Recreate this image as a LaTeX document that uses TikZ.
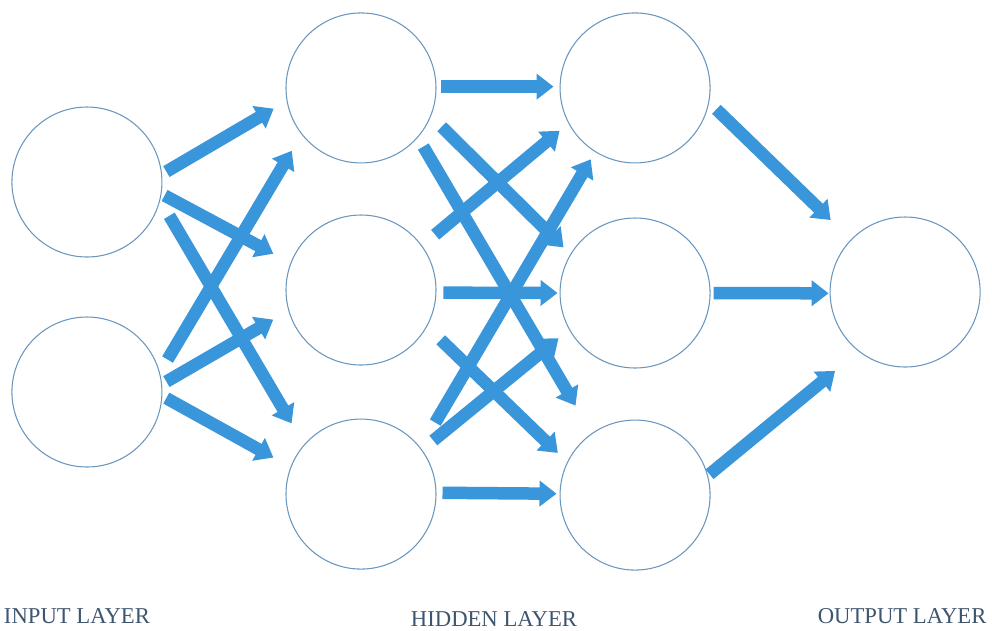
\documentclass[tikz,border=0pt]{standalone}
\usepackage{fontspec}
\setmainfont{Liberation Serif}
\usepackage{xcolor}
\usepackage{tikz}
\usetikzlibrary{positioning,arrows.meta}
\definecolor{nodeline}{RGB}{105,150,190}
\definecolor{linkblue}{RGB}{58,150,218}
\definecolor{labelgray}{RGB}{62,85,110}

\begin{document}
\begin{tikzpicture}[
        neuron/.style={circle, draw=nodeline, line width=0.6pt, minimum size=3cm, inner sep=0pt},
        link/.style={-{Triangle[length=0.34cm, width=0.5cm]}, line width=0.25cm, linkblue},
        layername/.style={inner sep=0pt, text=labelgray, font=\fontsize{12.9}{15}\selectfont}
    ]
        \useasboundingbox (-7.22,-6.8) rectangle (12.62,5.8);

        % first hidden layer
        \node[neuron] (h1b) {};
        \node[neuron, above=1.02cm of h1b] (h1a) {};
        \node[neuron, below=1.06cm of h1b] (h1c) {};

        % second hidden layer
        \node[neuron, right=2.46cm of h1b, yshift=-0.06cm] (h2b) {};
        \node[neuron, above=1.08cm of h2b] (h2a) {};
        \node[neuron, below=1.02cm of h2b] (h2c) {};

        % input and output
        \node[neuron, left=2.46cm of h1b, yshift=2.16cm] (in1) {};
        \node[neuron, left=2.46cm of h1b, yshift=-2.04cm] (in2) {};
        \node[neuron, right=2.38cm of h2b, yshift=0.02cm] (out) {};

        % layer names
        \node[layername, below=2.82cm of in2, xshift=-0.2cm] (inname) {INPUT LAYER};
        \node[layername, below=0.84cm of h1c, xshift=2.66cm] (hidname) {HIDDEN LAYER};
        \node[layername, below=4.82cm of out, xshift=-0.06cm] (outname) {OUTPUT LAYER};

        % input -> hidden
        \draw[link, shorten <=0.10cm, shorten >=0.30cm] (in1.6) -- (h1a.190);
        \draw[link, shorten <=0.07cm, shorten >=0.39cm] (in1.-9) -- (h1b.159);
        \draw[link, shorten <=0.36cm, shorten >=0.49cm] (in1.-14) -- (h1c.139);
        \draw[link, shorten <=0.30cm, shorten >=0.38cm] (in2.15) -- (h1a.218);
        \draw[link, shorten <=0.10cm, shorten >=0.35cm] (in2.6) -- (h1b.196);
        \draw[link, shorten <=0.09cm, shorten >=0.39cm] (in2.-3) -- (h1c.159);

        % hidden -> hidden
        \draw[link, shorten <=0.08cm, shorten >=0.12cm] (h1a.1) -- (h2a.179);
        \draw[link, shorten <=0.14cm, shorten >=0.04cm] (h1b.-2) -- (h2b.180);
        \draw[link, shorten <=0.12cm, shorten >=0.06cm] (h1c.1) -- (h2c.179);
        \draw[link, shorten <=0.30cm, shorten >=0.19cm] (h1a.-22) -- (h2b.149);
        \draw[link, shorten <=0.21cm, shorten >=0.64cm] (h1a.-41) -- (h2c.125);
        \draw[link, shorten <=0.34cm, shorten >=0.23cm] (h1b.36) -- (h2a.208);
        \draw[link, shorten <=0.38cm, shorten >=0.26cm] (h1b.-29) -- (h2c.154);
        \draw[link, shorten <=0.58cm, shorten >=0.17cm] (h1c.38) -- (h2a.238);
        \draw[link, shorten <=0.29cm, shorten >=0.27cm] (h1c.36) -- (h2b.209);

        % hidden -> output
        \draw[link, shorten <=0.20cm, shorten >=0.56cm] (h2a.-11) -- (out.136);
        \draw[link, shorten <=0.06cm, shorten >=0.02cm] (h2b.0) -- (out.181);
        \draw[link, shorten <=0.04cm, shorten >=0.61cm] (h2c.15) -- (out.232);
    \end{tikzpicture}
\end{document}
